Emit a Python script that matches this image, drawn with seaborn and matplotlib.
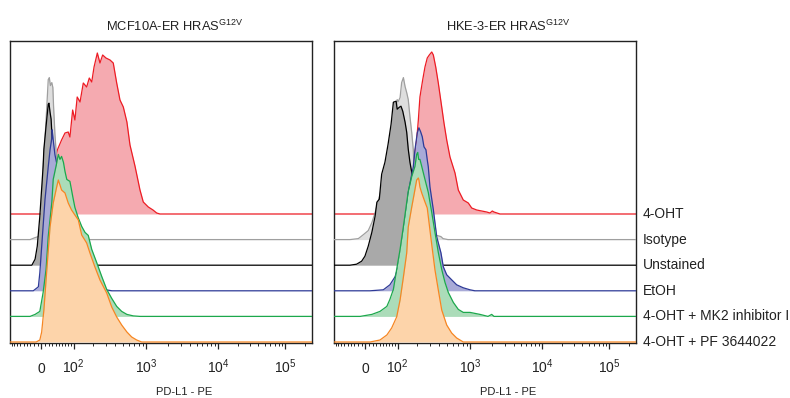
import numpy as np
import matplotlib
matplotlib.use("Agg")
import matplotlib.pyplot as plt
import matplotlib.transforms as mtransforms
import seaborn as sns

# ---------------- data ----------------
samples = ["4-OHT", "Isotype", "Unstained", "EtOH",
           "4-OHT + MK2 inhibitor III", "4-OHT + PF 3644022"]
panel_titles = [r"MCF10A-ER HRAS$^{\mathregular{G12V}}$",
                r"HKE-3-ER HRAS$^{\mathregular{G12V}}$"]
x_label = "PD-L1 - PE"
tick_values = [0, 100, 1000, 10000, 100000]
tick_labels = [r"$\mathregular{0}$", r"$\mathregular{10^{2}}$", r"$\mathregular{10^{3}}$",
               r"$\mathregular{10^{4}}$", r"$\mathregular{10^{5}}$"]
minor_tick_values = ([-v for v in range(10, 100, 10)] + list(range(10, 100, 10))
                     + list(range(200, 1000, 100)) + list(range(2000, 10000, 1000))
                     + list(range(20000, 100000, 10000)) + [200000])

# MCF10A-ER HRAS G12V : PD-L1 intensity (x) and count, normalized to mode (y)
mcf_ohT_x = [2, 18, 32, 45, 58, 69, 80, 86, 96, 105, 115, 128, 144, 162, 177, 192, 207, 230, 250, 272,
             301, 341, 376, 417, 460, 508, 565, 619, 717, 831, 915, 1066, 1240, 1395, 1551]
mcf_ohT_y = [0, 19, 44, 64, 74, 81, 82, 77, 104, 94, 117, 112, 131, 127, 136, 132, 147, 161, 151, 159,
             156, 154, 151, 131, 114, 107, 92, 69, 48, 24, 12, 7, 4, 1, 0]
mcf_iso_x = [-31, -17, -8, -2, 1, 4, 5, 10, 15, 19, 22, 25, 29, 32, 34, 38, 44, 53, 63, 76, 93, 119]
mcf_iso_y = [0, 2, 3, 13, 30, 60, 73, 100, 133, 160, 162, 154, 157, 152, 133, 105, 75, 45, 25, 10, 2, 0]
mcf_uns_x = [-31, -26, -17, -11, -4, 5, 7, 13, 19, 21, 24, 27, 29, 32, 38, 47, 59, 72, 94, 128]
mcf_uns_y = [0, 0, 6, 19, 49, 99, 116, 139, 161, 162, 153, 146, 133, 116, 91, 61, 36, 18, 6, 0]
mcf_etoh_x = [-31, -22, -8, -4, 10, 19, 24, 29, 30, 33, 38, 44, 53, 69, 86, 110, 137, 170, 207, 250, 301, 362]
mcf_etoh_y = [0, 0, 4, 18, 91, 124, 141, 153, 161, 151, 136, 126, 116, 101, 86, 69, 51, 33, 17, 6, 1, 0]
mcf_mk2_x = [-31, -17, -4, 5, 13, 19, 29, 33, 41, 48, 53, 58, 64, 69, 75, 86, 97, 105, 119, 136,
             153, 171, 192, 225, 264, 308, 359, 417, 484, 565, 682, 831]
mcf_mk2_y = [0, 2, 5, 24, 47, 80, 114, 137, 150, 162, 157, 160, 154, 145, 137, 135, 119, 109, 99, 90,
             84, 81, 67, 54, 40, 27, 18, 10, 5, 2, 0.5, 0]
mcf_pf_x = [-31, -14, -4, 1, 7, 15, 24, 33, 43, 48, 53, 58, 69, 80, 92, 105, 120, 136, 162, 181,
            213, 250, 308, 359, 417, 484, 565, 651, 754, 874, 991]
mcf_pf_y = [0, 0, 2, 10, 32, 72, 115, 139, 155, 162, 157, 152, 149, 139, 132, 127, 122, 107, 99, 89,
            75, 62, 49, 35, 25, 17, 10, 5, 2, 0, 0]

# HKE-3-ER HRAS G12V
hke_ohT_x = [110, 133, 158, 175, 187, 198, 209, 220, 240, 258, 277, 295, 318, 334, 359, 388, 430, 460,
             499, 550, 638, 703, 814, 943, 1046, 1228, 1691, 1879, 2023, 2136, 2350, 2588]
hke_ohT_y = [0, 9, 29, 46, 61, 74, 94, 117, 134, 147, 156, 159, 162, 159, 147, 131, 107, 91,
             74, 57, 41, 24, 14, 11, 6, 4, 2, 1, 3, 2, 1, 0]
hke_iso_x = [-43, -19, -5, 8, 18, 27, 41, 56, 72, 86, 98, 102, 110, 117, 125, 133, 141, 149, 158, 168,
             177, 181, 194, 213, 243, 283, 341, 420, 447, 518]
hke_iso_y = [0, 1, 5, 9, 17, 27, 45, 65, 90, 115, 140, 138, 142, 157, 162, 153, 147, 140, 123, 107,
             90, 73, 55, 35, 20, 10, 5, 3, 1, 0]
hke_uns_x = [-43, -24, -10, -1, 8, 18, 27, 32, 39, 46, 56, 66, 76, 84, 94, 98, 107, 114, 122, 133,
             141, 149, 158, 170, 187, 207, 228, 258, 301]
hke_uns_y = [0, 1, 4, 9, 19, 33, 49, 63, 66, 91, 103, 121, 141, 163, 164, 156, 158, 159, 154, 143,
             133, 116, 103, 91, 66, 38, 18, 6, 0]
hke_etoh_x = [13, 51, 72, 90, 102, 117, 125, 141, 149, 162, 177, 187, 202, 213, 225, 237, 250, 266, 277, 286,
              301, 334, 370, 420, 451, 499, 578, 670, 814, 991, 1162]
hke_etoh_y = [0, 1, 6, 14, 24, 41, 58, 81, 98, 111, 124, 141, 158, 163, 159, 154, 144, 141, 131, 124,
              104, 81, 54, 38, 24, 16, 11, 6, 3, 1, 0]
hke_mk2_x = [-14, 18, 41, 62, 72, 84, 96, 110, 125, 141, 149, 168, 187, 198, 205, 211, 220, 233, 258, 286,
             318, 351, 388, 430, 474, 523, 607, 703, 814, 991, 1365, 1763, 1984, 2136, 2588]
hke_mk2_y = [0, 2, 5, 10, 17, 27, 47, 67, 90, 114, 125, 140, 150, 162, 164, 157, 157, 150, 137, 124,
             104, 84, 64, 47, 34, 24, 14, 7, 4, 4, 2, 0, 2, 0, 0]
hke_pf_x = [13, 41, 62, 78, 96, 110, 125, 141, 149, 168, 181, 198, 209, 213, 220, 233, 258, 277, 301, 321,
            351, 388, 430, 499, 578, 670, 814, 991]
hke_pf_y = [0, 2, 7, 14, 25, 42, 65, 89, 115, 135, 147, 162, 164, 162, 155, 149, 140, 134, 112, 95,
            72, 52, 32, 17, 9, 4, 0, 0]

panels = [
    [(mcf_ohT_x, mcf_ohT_y), (mcf_iso_x, mcf_iso_y), (mcf_uns_x, mcf_uns_y),
     (mcf_etoh_x, mcf_etoh_y), (mcf_mk2_x, mcf_mk2_y), (mcf_pf_x, mcf_pf_y)],
    [(hke_ohT_x, hke_ohT_y), (hke_iso_x, hke_iso_y), (hke_uns_x, hke_uns_y),
     (hke_etoh_x, hke_etoh_y), (hke_mk2_x, hke_mk2_y), (hke_pf_x, hke_pf_y)],
]

# ---------------- style ----------------
line_colors = ["#ed1c24", "#9f9f9f", "#000000", "#2e3a97", "#1ca84c", "#f68622"]
fill_colors = ["#f5aab0", "#dedede", "#a9a9a9", "#a8aad7", "#abdcb9", "#fdd4aa"]
offset_step = 25.6
title_x = [0.546, 0.576]

sns.set_style("ticks")
plt.rcParams["font.family"] = ["Liberation Sans", "DejaVu Sans"]
plt.rcParams["mathtext.fontset"] = "custom"
plt.rcParams["mathtext.rm"] = "Liberation Sans"
plt.rcParams["mathtext.it"] = "Liberation Sans:italic"
plt.rcParams["mathtext.bf"] = "Liberation Sans:bold"

# biexponential-like display scale (arcsinh based, calibrated to decade positions)
REF_VALUES = np.array([-1e4, -100, 0, 100, 1e3, 1e4, 1e5, 1e6])
REF_POS = np.array([-145.7, -1.1, 31.3, 63.7, 136.3, 208.3, 275.0, 341.7])
REF_A = np.arcsinh(REF_VALUES / 100.0)


def fwd(x):
    return np.interp(np.arcsinh(np.asarray(x, dtype=float) / 100.0), REF_A, REF_POS)


def inv(p):
    return 100.0 * np.sinh(np.interp(np.asarray(p, dtype=float), REF_POS, REF_A))


XMIN, XMAX = float(inv(0.0)), float(inv(302.0))

fig = plt.figure(figsize=(7.9, 3.98), dpi=100)
ax_left = fig.add_axes([10 / 790, 55 / 398, 302 / 790, 302 / 398])
ax_right = fig.add_axes([334 / 790, 55 / 398, 302 / 790, 302 / 398])

n = len(samples)
for ax, traces, title, tx in zip([ax_left, ax_right], panels, panel_titles, title_x):
    ax.set_xscale("function", functions=(fwd, inv))
    for i, (xs, hs) in enumerate(traces):
        base = (n - 1 - i) * offset_step
        xx = np.array([XMIN] + list(xs) + [XMAX], dtype=float)
        yy = base + np.array([0] + list(hs) + [0], dtype=float)
        ax.fill_between(xx, base, yy, color=fill_colors[i], linewidth=0, zorder=2 * i + 1)
        sns.lineplot(x=xx, y=yy, ax=ax, color=line_colors[i], linewidth=0.9,
                     sort=False, estimator=None, zorder=2 * i + 2)
    ax.set_xlim(XMIN, XMAX)
    ax.set_ylim(-1, 301)
    ax.set_xticks(tick_values)
    ax.set_xticklabels(tick_labels, va="baseline")
    ax.set_xticks(minor_tick_values, minor=True)
    ax.set_yticks([])
    ax.set_ylabel("")
    ax.tick_params(axis="x", which="major", direction="out", length=4.5, width=0.9,
                   labelsize=10, pad=17, top=False, labelcolor="#222222")
    ax.tick_params(axis="x", which="minor", direction="out", length=2.5, width=0.7, top=False)
    for sp in ax.spines.values():
        sp.set_visible(True)
        sp.set_linewidth(1.0)
        sp.set_color("#222222")
    ax.set_title(title, fontsize=9.3, x=tx, pad=7, color="#222222")
    ax.set_xlabel(x_label, fontsize=8, color="#222222")
    ax.xaxis.set_label_coords(0.578, -0.146)

trans = mtransforms.blended_transform_factory(ax_right.transAxes, ax_right.transData)
for i, name in enumerate(samples):
    base = (n - 1 - i) * offset_step
    ax_right.text(1.023, base, name, transform=trans, ha="left", va="center",
                  fontsize=10, color="#222222", clip_on=False)

fig.savefig("out.png", dpi=100)
